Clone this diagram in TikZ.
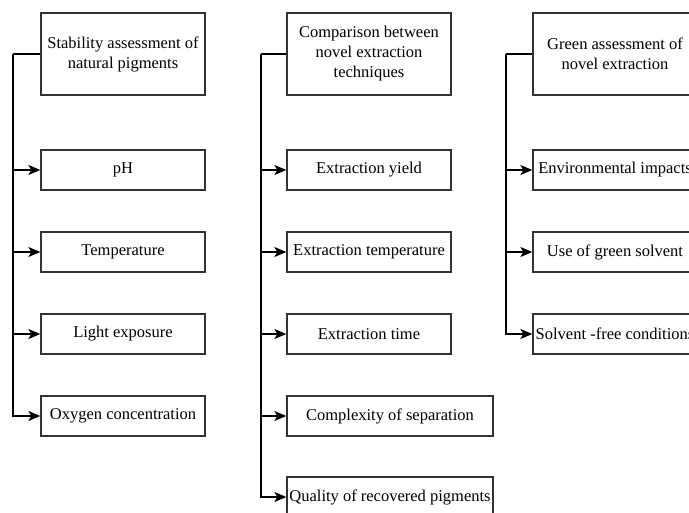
\documentclass[tikz,border=0pt]{standalone}
\usepackage{fontspec}
\setmainfont{Liberation Serif}
\usetikzlibrary{arrows.meta}
\begin{document}
\begin{tikzpicture}[x=1pt,y=-1pt,
  box/.style={draw=black!80,line width=1.3pt,fill=white,minimum width=164pt,
    minimum height=40pt,inner sep=0pt,align=center,
    font=\fontsize{16.5}{20}\selectfont},
  headbox/.style={box,minimum height=82pt},
  widebox/.style={box,minimum width=206pt},
  link/.style={line width=1.3pt,-{Stealth[length=12pt,width=10pt,inset=3pt]}},
  bar/.style={line width=1.5pt}]
\useasboundingbox (0,0) rectangle (689,513);
\clip (0,0) rectangle (689,513);

% bus x positions
\coordinate (bus1) at (13,0);
\coordinate (bus2) at (261,0);
\coordinate (bus3) at (506,0);

% column 1: stability
\node[headbox] (h1) at (123,54) {Stability assessment of\\natural pigments};
\node[box] (a1) at (123,170) {pH};
\node[box] (a2) at (123,252) {Temperature};
\node[box] (a3) at (123,334) {Light exposure};
\node[box] (a4) at (123,416) {Oxygen concentration};

% column 2: comparison of techniques
\node[headbox] (h2) at (369,54) {Comparison between\\novel extraction\\techniques};
\node[box] (b1) at (369,170) {Extraction yield};
\node[box] (b2) at (369,252) {Extraction temperature};
\node[box] (b3) at (369,334) {Extraction time};
\node[widebox] (b4) at (390,416) {Complexity of separation};
\node[widebox] (b5) at (390,497) {Quality of recovered pigments};

% column 3: green assessment
\node[headbox] (h3) at (615,54) {Green assessment of\\novel extraction};
\node[box] (c1) at (615,170) {Environmental impacts};
\node[box] (c2) at (615,252) {Use of green solvent};
\node[box] (c3) at (615,334) {Solvent -free conditions};

% connectors from each header to its items
\foreach \h/\b/\items in {h1/bus1/{a1,a2,a3,a4}, h2/bus2/{b1,b2,b3,b4,b5}, h3/bus3/{c1,c2,c3}}{
  \draw[bar] (\h.west) -- (\h.west -| \b);
  \foreach \i in \items {
    \draw[link] (\h.west -| \b) |- (\i.west);
  }
}
\end{tikzpicture}
\end{document}
